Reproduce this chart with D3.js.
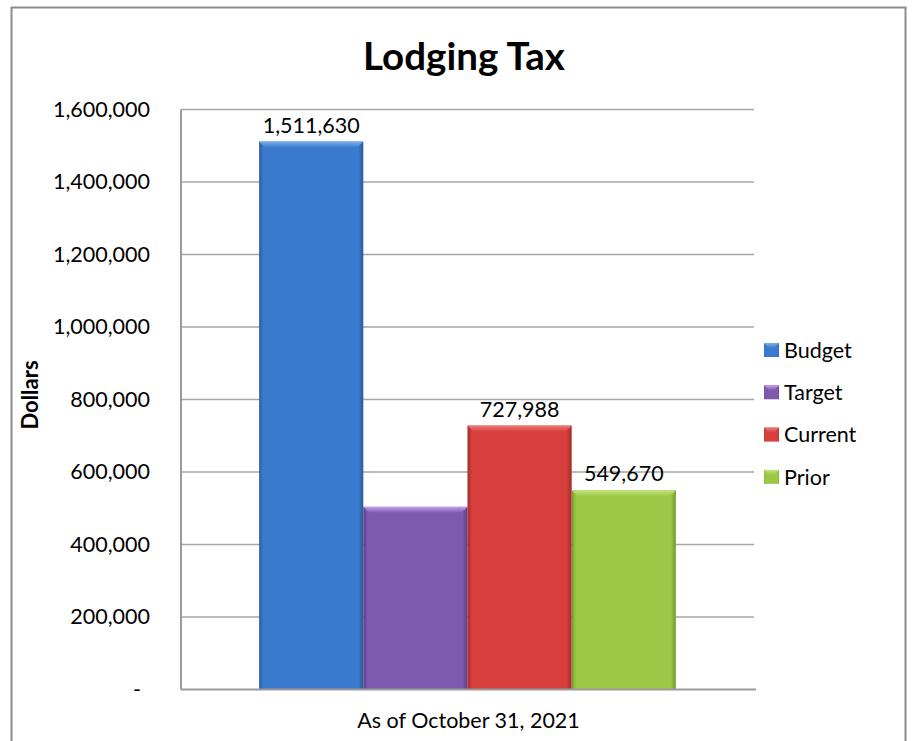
<!DOCTYPE html>
<html>
<head>
<meta charset="utf-8">
<script src="https://cdnjs.cloudflare.com/ajax/libs/d3/7.8.5/d3.min.js"></script>
<style>
  html, body { margin: 0; padding: 0; background: #fff; }
  svg { display: block; font-family: Lato, "Open Sans", sans-serif; }
</style>
</head>
<body>
<svg id="chart" width="920" height="741"></svg>
<script>
// Lodging tax, year to date
const categories = ["As of October 31, 2021"];
const seriesNames = ["Budget", "Target", "Current", "Prior"];
const seriesValues = [1511630, 503877, 727988, 549670];
const showValueLabel = [true, false, true, true];
const yTicks = [0, 200000, 400000, 600000, 800000, 1000000, 1200000, 1400000, 1600000];

const palette = {
  Budget:  { base: "#3b7bcf", light: "#7db0ea", dark: "#2a5a9c" },
  Target:  { base: "#7d5aad", light: "#c3a0ea", dark: "#5b3e86" },
  Current: { base: "#d63f3b", light: "#ec7d78", dark: "#a32a27" },
  Prior:   { base: "#9cc945", light: "#c4e37e", dark: "#76992f" }
};

const svg = d3.select("#chart");
const defs = svg.append("defs");

const plot = { left: 181, right: 754, top: 109.5, bottom: 689.5 };

// Chart frame (open at the bottom of the view)
svg.append("path")
  .attr("d", "M11.5,745 L11.5,7.5 L905.5,7.5 L905.5,745")
  .attr("fill", "none").attr("stroke", "#8c8c8c").attr("stroke-width", 2);

// Title
svg.append("text")
  .attr("x", 464).attr("y", 70)
  .attr("text-anchor", "middle")
  .attr("font-weight", "bold").attr("font-size", 38.5)
  .text("Lodging Tax");

const y = d3.scaleLinear().domain([0, 1600000]).range([plot.bottom, plot.top]);
const x0 = d3.scaleBand().domain(categories).range([plot.left, plot.right])
  .paddingInner(0).paddingOuter(0.1875);
const x1 = d3.scaleBand().domain(seriesNames).range([0, x0.bandwidth()]).padding(0);

// Gridlines
svg.append("g").selectAll("line")
  .data(yTicks.filter(d => d > 0))
  .join("line")
  .attr("x1", plot.left).attr("x2", plot.right)
  .attr("y1", d => y(d)).attr("y2", d => y(d))
  .attr("stroke", "#a6a6a6").attr("stroke-width", 1.6);

// Y axis
const yAxis = d3.axisLeft(y).tickValues(yTicks).tickSize(0).tickPadding(31)
  .tickFormat(d => d === 0 ? "-" : d3.format(",")(d));
const gy = svg.append("g").attr("transform", `translate(${plot.left},0)`).call(yAxis);
gy.select(".domain").remove();
gy.selectAll("text")
  .attr("font-family", "Lato, sans-serif").attr("font-size", 21.5).attr("fill", "#000")
  .attr("dx", d => d === 0 ? -9 : 0);

// Axis lines
svg.append("line")
  .attr("x1", plot.left).attr("x2", plot.left).attr("y1", plot.top).attr("y2", plot.bottom)
  .attr("stroke", "#9a9a9a").attr("stroke-width", 2);

// Gradients for bevelled bars
seriesNames.forEach(name => {
  const c = palette[name];
  const g = defs.append("linearGradient").attr("id", "grad-" + name)
    .attr("x1", "0").attr("x2", "1").attr("y1", "0").attr("y2", "0");
  g.append("stop").attr("offset", "0").attr("stop-color", c.dark);
  g.append("stop").attr("offset", "0.04").attr("stop-color", c.base);
  g.append("stop").attr("offset", "0.95").attr("stop-color", c.base);
  g.append("stop").attr("offset", "1").attr("stop-color", c.dark);
  const t = defs.append("linearGradient").attr("id", "top-" + name)
    .attr("x1", "0").attr("x2", "0").attr("y1", "0").attr("y2", "1");
  t.append("stop").attr("offset", "0").attr("stop-color", c.light);
  t.append("stop").attr("offset", "1").attr("stop-color", c.base);
});

const barData = seriesNames.map((name, i) => ({
  name, value: seriesValues[i], label: showValueLabel[i], category: categories[0]
}));

const bevel = 6;
const bars = svg.append("g").selectAll("g")
  .data(barData).join("g");

bars.append("rect")
  .attr("x", d => x0(d.category) + x1(d.name))
  .attr("y", d => y(d.value))
  .attr("width", x1.bandwidth())
  .attr("height", d => y(0) - y(d.value))
  .attr("fill", d => `url(#grad-${d.name})`);

bars.append("path")
  .attr("d", d => {
    const xl = x0(d.category) + x1(d.name), xr = xl + x1.bandwidth(), yt = y(d.value);
    return `M${xl},${yt} L${xr},${yt} L${xr - bevel},${yt + bevel} L${xl + bevel},${yt + bevel} Z`;
  })
  .attr("fill", d => `url(#top-${d.name})`);

// X axis line
svg.append("line")
  .attr("x1", plot.left).attr("x2", plot.right + 2).attr("y1", plot.bottom).attr("y2", plot.bottom)
  .attr("stroke", "#9a9a9a").attr("stroke-width", 2);

// Value labels
bars.filter(d => d.label).append("text")
  .attr("x", d => x0(d.category) + x1(d.name) + x1.bandwidth() / 2)
  .attr("y", d => y(d.value) - 9)
  .attr("text-anchor", "middle")
  .attr("font-size", 21.5)
  .text(d => d3.format(",")(d.value));

// Category label
svg.append("text")
  .attr("x", x0(categories[0]) + x0.bandwidth() / 2 + 1)
  .attr("y", 728)
  .attr("text-anchor", "middle")
  .attr("font-size", 21.5)
  .text(categories[0]);

// Y axis title
svg.append("text")
  .attr("transform", "translate(38,395) rotate(-90)")
  .attr("text-anchor", "middle")
  .attr("font-weight", "bold").attr("font-size", 22)
  .text("Dollars");

// Legend
const legend = svg.append("g").selectAll("g")
  .data(seriesNames).join("g")
  .attr("transform", (d, i) => `translate(764,${350 + i * 42.3})`);
legend.append("rect")
  .attr("x", 0).attr("y", -7).attr("width", 15).attr("height", 14)
  .attr("fill", d => `url(#grad-${d})`);
legend.append("path")
  .attr("d", "M0,-7 L15,-7 L10,-2 L5,-2 Z")
  .attr("fill", d => `url(#top-${d})`);
legend.append("text")
  .attr("x", 20).attr("y", 0).attr("dy", "0.36em")
  .attr("font-size", 21.5)
  .text(d => d);
</script>
</body>
</html>
